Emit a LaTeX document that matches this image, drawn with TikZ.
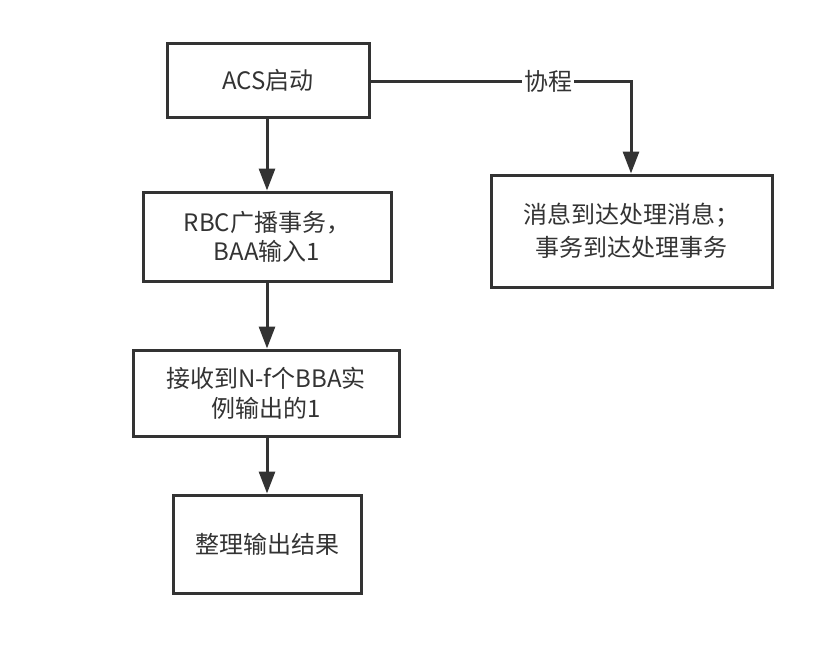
\documentclass[tikz,border=0pt]{standalone}
\usepackage{fontspec}
\setmainfont{Noto Sans CJK SC}
\usetikzlibrary{arrows.meta}
\definecolor{ink}{HTML}{333333}
\tikzset{
  box/.style={draw=ink, line width=3pt, fill=white, text=ink, align=center,
    inner sep=0pt, font=\fontsize{24}{29}\selectfont},
  conn/.style={draw=ink, line width=3pt, -{Triangle[length=22pt,width=16pt]}},
}
\begin{document}
\begin{tikzpicture}[x=1pt,y=-1pt]
\useasboundingbox (0,0) rectangle (830,646);
\node[box, minimum width=202pt, minimum height=74pt] (acs) at (268,80) {ACS启动};
\node[box, minimum width=248pt, minimum height=89pt] (rbc) at (267,236.5) {RBC广播事务，\\ BAA输入1};
\node[box, minimum width=266pt, minimum height=86pt, font=\fontsize{24}{30}\selectfont] (recv) at (266,393) {接收到N-f个BBA实\\例输出的1};
\node[box, minimum width=188pt, minimum height=98pt] (out) at (267,544) {整理输出结果};
\node[box, minimum width=281pt, minimum height=112pt, font=\fontsize{24}{33}\selectfont] (msg) at (631.5,231) {消息到达处理消息；\\ 事务到达处理事务};
\coordinate (bend) at (631,81);
\draw[conn] (acs.south -| 267,0) -- (rbc.north -| 267,0);
\draw[conn] (rbc.south -| 267,0) -- (recv.north -| 267,0);
\draw[conn] (recv.south -| 267,0) -- (out.north -| 267,0);
\draw[conn] (acs.east |- bend) -- (bend) -- (msg.north -| bend);
\node[fill=white, text=ink, inner sep=2pt, font=\fontsize{24}{28}\selectfont] (lbl) at (548,81) {协程};
\end{tikzpicture}
\end{document}
